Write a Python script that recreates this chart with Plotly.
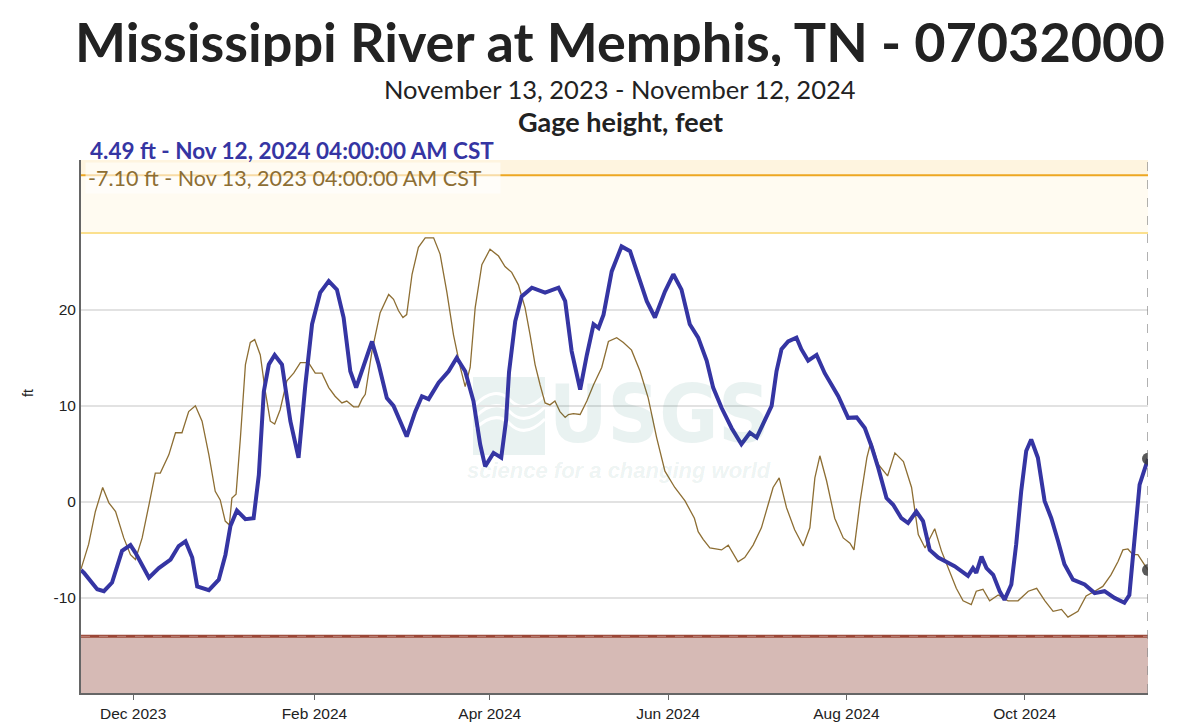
import plotly.graph_objects as go

# ---------------- data ----------------
cur_dates = ["2023-11-13 04:00", "2023-11-14 05:00", "2023-11-18 17:00", "2023-11-21 00:00", "2023-11-23 19:00",
             "2023-11-27 05:00", "2023-11-30 02:00", "2023-12-01 19:00", "2023-12-06 10:00", "2023-12-09 19:00",
             "2023-12-13 19:00", "2023-12-16 14:00", "2023-12-18 22:00", "2023-12-21 05:00", "2023-12-22 22:00",
             "2023-12-26 22:00", "2023-12-30 07:00", "2024-01-01 14:00", "2024-01-03 07:00", "2024-01-05 12:00",
             "2024-01-08 10:00", "2024-01-11 05:00", "2024-01-13 00:00", "2024-01-14 17:00", "2024-01-16 10:00",
             "2024-01-18 10:00", "2024-01-20 22:00", "2024-01-23 19:00", "2024-01-26 14:00", "2024-01-28 22:00",
             "2024-01-31 05:00", "2024-02-03 00:00", "2024-02-05 22:00", "2024-02-08 17:00", "2024-02-11 00:00",
             "2024-02-13 07:00", "2024-02-15 07:00", "2024-02-17 19:00", "2024-02-20 17:00", "2024-02-23 00:00",
             "2024-02-25 19:00", "2024-02-28 02:00", "2024-03-01 10:00", "2024-03-03 14:00", "2024-03-06 12:00",
             "2024-03-08 19:00", "2024-03-11 02:00", "2024-03-14 12:00", "2024-03-17 22:00", "2024-03-20 17:00",
             "2024-03-23 14:00", "2024-03-26 10:00", "2024-03-28 17:00", "2024-03-30 10:00", "2024-04-02 07:00",
             "2024-04-04 22:00", "2024-04-06 14:00", "2024-04-07 14:00", "2024-04-09 17:00", "2024-04-11 22:00",
             "2024-04-15 10:00", "2024-04-19 22:00", "2024-04-24 12:00", "2024-04-26 19:00", "2024-04-29 00:00",
             "2024-05-01 22:00", "2024-05-04 05:00", "2024-05-06 12:00", "2024-05-08 05:00", "2024-05-09 22:00",
             "2024-05-12 17:00", "2024-05-16 02:00", "2024-05-19 00:00", "2024-05-21 19:00", "2024-05-24 17:00",
             "2024-05-27 12:00", "2024-05-30 22:00", "2024-06-02 19:00", "2024-06-05 14:00", "2024-06-08 10:00",
             "2024-06-11 07:00", "2024-06-14 05:00", "2024-06-16 10:00", "2024-06-19 07:00", "2024-06-22 17:00",
             "2024-06-26 02:00", "2024-06-29 00:00", "2024-07-01 07:00", "2024-07-04 02:00", "2024-07-06 10:00",
             "2024-07-08 02:00", "2024-07-09 19:00", "2024-07-12 02:00", "2024-07-14 22:00", "2024-07-16 14:00",
             "2024-07-18 22:00", "2024-07-21 19:00", "2024-07-24 14:00", "2024-07-26 22:00", "2024-07-29 05:00",
             "2024-08-01 14:00", "2024-08-04 12:00", "2024-08-07 07:00", "2024-08-09 14:00", "2024-08-11 22:00",
             "2024-08-14 17:00", "2024-08-17 00:00", "2024-08-19 19:00", "2024-08-22 02:00", "2024-08-24 22:00",
             "2024-08-27 05:00", "2024-08-29 12:00", "2024-09-01 10:00", "2024-09-04 05:00", "2024-09-07 00:00",
             "2024-09-11 14:00", "2024-09-13 07:00", "2024-09-14 10:00", "2024-09-16 05:00", "2024-09-17 22:00",
             "2024-09-20 05:00", "2024-09-22 10:00", "2024-09-24 02:00", "2024-09-26 10:00", "2024-09-28 02:00",
             "2024-09-29 19:00", "2024-10-01 12:00", "2024-10-03 05:00", "2024-10-05 12:00", "2024-10-07 19:00",
             "2024-10-10 02:00", "2024-10-12 10:00", "2024-10-14 14:00", "2024-10-17 12:00", "2024-10-21 12:00",
             "2024-10-24 22:00", "2024-10-28 07:00", "2024-10-31 17:00", "2024-11-04 02:00", "2024-11-05 19:00",
             "2024-11-07 14:00", "2024-11-09 07:00", "2024-11-12 04:00"]
cur_values = [-7.1, -7.4, -9.1, -9.3, -8.4,
              -5.1, -4.5, -5.3, -7.9, -6.9,
              -6.0, -4.6, -4.1, -5.8, -8.8,
              -9.2, -8.1, -5.5, -2.5, -0.9,
              -1.8, -1.7, 2.8, 11.5, 14.3,
              15.3, 14.3, 8.4, 4.6, 12.2,
              18.5, 21.8, 23.0, 22.1, 19.2,
              13.6, 11.9, 14.0, 16.7, 14.3,
              10.8, 10.0, 8.4, 6.8, 9.4,
              11.0, 10.7, 12.4, 13.6, 15.0,
              13.6, 10.5, 6.0, 3.7, 5.1,
              4.6, 8.5, 13.5, 18.8, 21.4,
              22.3, 21.8, 22.3, 20.9, 15.7,
              11.7, 15.3, 18.5, 18.1, 19.5,
              24.0, 26.6, 26.1, 23.7, 20.9,
              19.2, 21.9, 23.7, 22.1, 18.5,
              17.1, 14.7, 11.9, 9.8, 7.7,
              6.0, 7.2, 6.7, 8.4, 10.0,
              13.6, 15.9, 16.7, 17.1, 15.9,
              14.7, 15.3, 13.4, 12.2, 11.0,
              8.75, 8.8, 7.7, 5.8, 3.5,
              0.4, -0.3, -1.7, -2.2, -1.0,
              -2.0, -5.0, -5.8, -6.2, -6.7,
              -7.7, -6.9, -7.4, -5.7, -6.9,
              -7.6, -9.3, -10.2, -8.6, -4.4,
              1.1, 5.3, 6.5, 4.6, 0.1,
              -1.7, -4.1, -6.5, -8.1, -8.6,
              -9.5, -9.3, -10.0, -10.5, -9.7,
              -4.1, 1.8, 4.49]

# previous year (Nov 2022 - Nov 2023), plotted on this year's calendar
prev_dates = ["2023-11-13 04:00", "2023-11-15 19:00", "2023-11-18 02:00", "2023-11-20 14:00", "2023-11-22 17:00",
              "2023-11-25 00:00", "2023-11-27 19:00", "2023-11-30 02:00", "2023-12-01 19:00", "2023-12-04 02:00",
              "2023-12-06 10:00", "2023-12-08 14:00", "2023-12-10 07:00", "2023-12-13 05:00", "2023-12-15 12:00",
              "2023-12-17 17:00", "2023-12-20 00:00", "2023-12-22 07:00", "2023-12-24 14:00", "2023-12-26 22:00",
              "2023-12-29 02:00", "2023-12-30 19:00", "2024-01-01 12:00", "2024-01-02 22:00", "2024-01-03 19:00",
              "2024-01-05 05:00", "2024-01-06 17:00", "2024-01-08 10:00", "2024-01-10 02:00", "2024-01-11 14:00",
              "2024-01-13 12:00", "2024-01-15 05:00", "2024-01-16 22:00", "2024-01-18 10:00", "2024-01-20 07:00",
              "2024-01-22 14:00", "2024-01-24 22:00", "2024-01-27 05:00", "2024-01-30 00:00", "2024-02-01 07:00",
              "2024-02-03 14:00", "2024-02-05 22:00", "2024-02-08 02:00", "2024-02-10 10:00", "2024-02-12 02:00",
              "2024-02-14 10:00", "2024-02-16 02:00", "2024-02-17 07:00", "2024-02-18 10:00", "2024-02-20 17:00",
              "2024-02-23 12:00", "2024-02-26 10:00", "2024-02-28 02:00", "2024-02-29 19:00", "2024-03-02 07:00",
              "2024-03-03 14:00", "2024-03-05 10:00", "2024-03-07 14:00", "2024-03-09 22:00", "2024-03-12 19:00",
              "2024-03-15 00:00", "2024-03-17 07:00", "2024-03-19 14:00", "2024-03-21 22:00", "2024-03-23 14:00",
              "2024-03-25 07:00", "2024-03-27 00:00", "2024-03-29 07:00", "2024-04-01 02:00", "2024-04-04 00:00",
              "2024-04-06 05:00", "2024-04-08 12:00", "2024-04-10 19:00", "2024-04-13 02:00", "2024-04-14 19:00",
              "2024-04-16 12:00", "2024-04-18 05:00", "2024-04-19 22:00", "2024-04-21 14:00", "2024-04-23 07:00",
              "2024-04-25 00:00", "2024-04-26 19:00", "2024-04-27 22:00", "2024-04-29 14:00", "2024-05-01 22:00",
              "2024-05-04 05:00", "2024-05-06 12:00", "2024-05-09 07:00", "2024-05-11 14:00", "2024-05-14 10:00",
              "2024-05-16 17:00", "2024-05-19 12:00", "2024-05-22 10:00", "2024-05-25 05:00", "2024-05-28 02:00",
              "2024-05-30 22:00", "2024-06-03 07:00", "2024-06-06 19:00", "2024-06-10 00:00", "2024-06-11 07:00",
              "2024-06-13 00:00", "2024-06-15 07:00", "2024-06-19 07:00", "2024-06-21 14:00", "2024-06-24 22:00",
              "2024-06-27 05:00", "2024-06-30 02:00", "2024-07-02 22:00", "2024-07-05 05:00", "2024-07-06 22:00",
              "2024-07-09 00:00", "2024-07-11 12:00", "2024-07-14 07:00", "2024-07-17 05:00", "2024-07-19 12:00",
              "2024-07-21 05:00", "2024-07-22 22:00", "2024-07-25 05:00", "2024-07-28 00:00", "2024-07-30 22:00",
              "2024-08-02 05:00", "2024-08-03 14:00", "2024-08-05 17:00", "2024-08-08 00:00", "2024-08-09 10:00",
              "2024-08-11 22:00", "2024-08-15 02:00", "2024-08-17 14:00", "2024-08-20 12:00", "2024-08-23 07:00",
              "2024-08-25 14:00", "2024-08-27 22:00", "2024-08-29 05:00", "2024-08-31 05:00", "2024-09-02 12:00",
              "2024-09-04 19:00", "2024-09-07 14:00", "2024-09-09 22:00", "2024-09-12 17:00", "2024-09-14 10:00",
              "2024-09-16 17:00", "2024-09-19 00:00", "2024-09-21 22:00", "2024-09-25 07:00", "2024-09-28 17:00",
              "2024-10-02 05:00", "2024-10-05 02:00", "2024-10-07 22:00", "2024-10-10 17:00", "2024-10-13 14:00",
              "2024-10-15 19:00", "2024-10-19 05:00", "2024-10-22 00:00", "2024-10-24 22:00", "2024-10-27 17:00",
              "2024-10-30 12:00", "2024-11-01 22:00", "2024-11-03 14:00", "2024-11-05 07:00", "2024-11-07 00:00",
              "2024-11-08 17:00", "2024-11-12 04:00"]
prev_values = [-7.0, -4.4, -1.0, 1.5, -0.1,
               -1.0, -3.75, -5.5, -6.0, -3.75,
               -0.3, 3.0, 3.0, 4.9, 7.2,
               7.2, 9.4, 10.0, 8.4, 4.9,
               1.1, 0.2, -2.0, -2.4, 0.4,
               0.8, 6.7, 14.3, 16.6, 16.9,
               15.3, 11.5, 8.4, 8.1, 9.6,
               12.6, 13.4, 14.5, 14.5, 13.4,
               13.4, 11.9, 11.0, 10.3, 10.5,
               9.9, 9.9, 10.7, 11.2, 15.7,
               19.7, 21.6, 21.1, 19.9, 19.2,
               19.5, 23.7, 26.5, 27.5, 27.5,
               25.8, 21.9, 17.4, 14.0, 12.0,
               14.0, 20.2, 24.7, 26.3, 25.6,
               24.5, 23.9, 22.6, 20.2, 17.4,
               14.3, 12.2, 10.3, 10.1, 10.5,
               9.4, 8.8, 9.1, 9.2, 9.1,
               10.5, 12.2, 14.0, 16.7, 17.1,
               16.6, 15.8, 13.6, 10.8, 6.7,
               3.2, 1.5, 0.1, -1.7, -3.1,
               -3.9, -4.8, -5.0, -4.5, -6.25,
               -5.8, -4.5, -2.7, -0.3, 1.5,
               2.5, -0.6, -2.9, -4.6, -2.7,
               2.5, 4.8, 2.2, -1.7, -3.75,
               -4.3, -5.0, 0.1, 4.6, 6.3,
               3.9, 2.7, 5.1, 4.2, 1.5,
               -3.4, -4.8, -4.0, -2.8, -5.1,
               -6.9, -9.0, -10.3, -10.7, -9.3,
               -9.1, -10.3, -9.7, -10.3, -10.3,
               -9.3, -9.0, -10.3, -11.4, -11.2,
               -12.0, -11.4, -9.8, -9.3, -8.8,
               -7.6, -6.2, -5.0, -4.9, -5.5,
               -5.5, -7.1]

flood_stage = 34.0
action_stage = 28.0
low_stage = -14.0
y_min, y_max = -19.9, 35.6
y_ticks = [-10, 0, 10, 20]
x_ticks = ["2023-12-01", "2024-02-01", "2024-04-01", "2024-06-01", "2024-08-01", "2024-10-01"]
x_tick_text = ["Dec 2023", "Feb 2024", "Apr 2024", "Jun 2024", "Aug 2024", "Oct 2024"]

title = "Mississippi River at Memphis, TN - 07032000"
subtitle = "November 13, 2023 - November 12, 2024"
param = "Gage height, feet"
cur_label = "4.49 ft - Nov 12, 2024 04:00:00 AM CST"
prev_label = "-7.10 ft - Nov 13, 2023 04:00:00 AM CST"

BLUE = "#3535a3"
TAN = "#8d6e33"

# ---------------- layout helpers ----------------
# page body has an 8px margin, so the figure is drawn 8px smaller and the
# target pixel positions (taken from the full 1198x728 page) are shifted
OFF = 8
W, H = 1198 - OFF, 728 - OFF
L, R, T, B = 81, 1148, 160, 693     # plot area, page pixels


def px(x):
    return (x - L) / (R - L)


def py(y):
    return (B - y) / (B - T)


fig = go.Figure()

fig.add_trace(go.Scatter(x=prev_dates, y=prev_values, mode="lines",
                         line=dict(color=TAN, width=1.3), hoverinfo="skip", showlegend=False))
fig.add_trace(go.Scatter(x=cur_dates, y=cur_values, mode="lines",
                         line=dict(color=BLUE, width=4), hoverinfo="skip", showlegend=False))
fig.add_trace(go.Scatter(x=[cur_dates[-1], prev_dates[-1]], y=[cur_values[-1], prev_values[-1]],
                         mode="markers", marker=dict(size=12, color="rgba(60,60,60,0.85)"),
                         hoverinfo="skip", showlegend=False))

shapes = []
# bands
shapes.append(dict(type="rect", xref="paper", yref="y", x0=0, x1=1, y0=action_stage, y1=y_max,
                   fillcolor="rgba(255,236,190,0.22)", line_width=0, layer="below"))
shapes.append(dict(type="rect", xref="paper", yref="y", x0=0, x1=1, y0=flood_stage, y1=y_max,
                   fillcolor="rgba(250,225,170,0.25)", line_width=0, layer="below"))
shapes.append(dict(type="rect", xref="paper", yref="y", x0=0, x1=1, y0=y_min, y1=low_stage,
                   fillcolor="#d6bab5", line_width=0, layer="below"))
# threshold lines
shapes.append(dict(type="line", xref="paper", yref="y", x0=0, x1=1, y0=action_stage, y1=action_stage,
                   line=dict(color="#fbe08e", width=2)))
shapes.append(dict(type="line", xref="paper", yref="y", x0=0, x1=1, y0=flood_stage, y1=flood_stage,
                   line=dict(color="#eda722", width=2)))
shapes.append(dict(type="line", xref="paper", yref="y", x0=0, x1=1, y0=low_stage, y1=low_stage,
                   line=dict(color="#9a4636", width=3)))
shapes.append(dict(type="line", xref="paper", yref="y", x0=0, x1=1, y0=low_stage, y1=low_stage,
                   line=dict(color="rgba(255,255,255,0.35)", width=1, dash="dash")))
# vertical dashed line at latest value
shapes.append(dict(type="line", xref="x", yref="paper", x0=cur_dates[-1], x1=cur_dates[-1], y0=0, y1=1,
                   line=dict(color="#888888", width=1.3, dash="dash")))
# USGS watermark logo block
WM = "rgba(0,110,90,0.085)"
shapes.append(dict(type="rect", xref="paper", yref="paper", x0=px(473), x1=px(545), y0=py(455), y1=py(377),
                   fillcolor=WM, line_width=0, layer="below"))
for off in (0, 12, 24):
    shapes.append(dict(type="path", xref="paper", yref="paper",
                       path="M {:.4f},{:.4f} Q {:.4f},{:.4f} {:.4f},{:.4f} T {:.4f},{:.4f}".format(
                           px(475), py(405 + off), px(495), py(385 + off), px(510), py(400 + off), px(545), py(395 + off)),
                       line=dict(color="white", width=3), layer="below"))

annotations = [
    dict(text="<b>" + title + "</b>", x=px(620), y=py(40.5), xref="paper", yref="paper",
         showarrow=False, font=dict(family="Lato, sans-serif", size=54, color="#222222"),
         xanchor="center", yanchor="middle", height=50, valign="middle"),
    dict(text=subtitle, x=px(620), y=py(88.5), xref="paper", yref="paper",
         showarrow=False, font=dict(family="Lato, sans-serif", size=25.5, color="#222222"),
         xanchor="center", yanchor="middle", height=28, valign="middle"),
    dict(text="<b>" + param + "</b>", x=px(620), y=py(120.5), xref="paper", yref="paper",
         showarrow=False, font=dict(family="Lato, sans-serif", size=27, color="#222222"),
         xanchor="center", yanchor="middle", height=30, valign="middle"),
    dict(text="<b>" + cur_label + "</b>", x=px(88), y=py(150.5), xref="paper", yref="paper",
         showarrow=False, font=dict(family="Lato, sans-serif", size=22.5, color=BLUE),
         xanchor="left", yanchor="middle"),
    dict(text=prev_label, x=px(85), y=py(178), xref="paper", yref="paper",
         showarrow=False, font=dict(family="Lato, sans-serif", size=21.5, color=TAN),
         xanchor="left", yanchor="middle", bgcolor="rgba(255,255,255,0.6)", borderpad=2,
         width=410, align="left"),
    dict(text="ft", x=px(28), y=py(393), xref="paper", yref="paper", textangle=-90,
         showarrow=False, font=dict(size=14, color="#222222"),
         xanchor="center", yanchor="middle"),
    dict(text="<b>USGS</b>", x=px(659), y=py(414), xref="paper", yref="paper",
         showarrow=False, font=dict(family="DejaVu Sans Condensed, Liberation Sans, sans-serif", size=80, color=WM),
         xanchor="center", yanchor="middle"),
    dict(text="<b><i>science for a changing world</i></b>", x=px(619), y=py(470), xref="paper", yref="paper",
         showarrow=False, font=dict(family="Liberation Sans, sans-serif", size=22, color=WM),
         xanchor="center", yanchor="middle"),
]

fig.update_layout(
    width=W, height=H,
    margin=dict(l=L - OFF, r=W - (R - OFF), t=T - OFF, b=H - (B - OFF), pad=0, autoexpand=False),
    paper_bgcolor="white", plot_bgcolor="white",
    shapes=shapes, annotations=annotations,
    showlegend=False,
    font=dict(family="Liberation Sans, Arial, sans-serif", size=15.5, color="#222222"),
    xaxis=dict(type="date", range=[cur_dates[0], cur_dates[-1]], tickvals=x_ticks, ticktext=x_tick_text,
               showgrid=False, showline=True, linecolor="#666666", linewidth=2,
               ticks="outside", ticklen=5, tickcolor="#666666", zeroline=False, automargin=False,
               tickfont=dict(size=15.5, color="#222222")),
    yaxis=dict(range=[y_min, y_max], tickvals=y_ticks, ticktext=[str(v) for v in y_ticks],
               showgrid=True, gridcolor="#e2e2e2", gridwidth=1.5, automargin=False,
               showline=True, linecolor="#666666", linewidth=2, zeroline=False,
               ticks="", tickfont=dict(size=15.5, color="#222222")),
)

fig.write_html("out.html")
